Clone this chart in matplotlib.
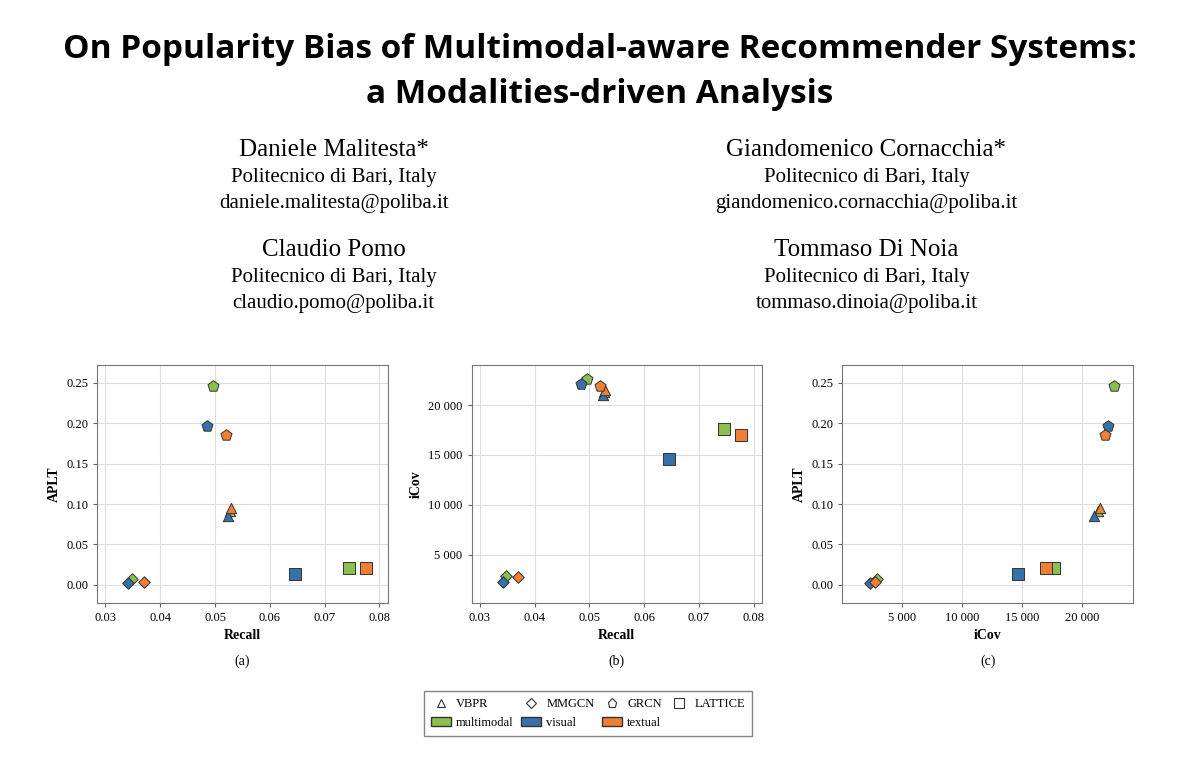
import matplotlib.pyplot as plt
from matplotlib.lines import Line2D
from matplotlib.patches import Patch

plt.rcParams['font.family'] = 'Liberation Serif'

models = ['VBPR', 'MMGCN', 'GRCN', 'LATTICE']
markers = ['^', 'D', 'p', 's']
sizes = [55, 35, 70, 80]
modalities = ['multimodal', 'visual', 'textual']
colors = {'multimodal': '#8cbf50', 'visual': '#3671aa', 'textual': '#ef7f32'}

# values per model: [multimodal, visual, textual]
recall = {
    'VBPR': [0.0527, 0.0524, 0.0529],
    'MMGCN': [0.0348, 0.0342, 0.0370],
    'GRCN': [0.0496, 0.0485, 0.0520],
    'LATTICE': [0.0745, 0.0646, 0.0776],
}
aplt = {
    'VBPR': [0.092, 0.085, 0.095],
    'MMGCN': [0.007, 0.002, 0.003],
    'GRCN': [0.246, 0.196, 0.185],
    'LATTICE': [0.021, 0.014, 0.021],
}
icov = {
    'VBPR': [21300, 21000, 21500],
    'MMGCN': [2900, 2300, 2750],
    'GRCN': [22600, 22100, 21900],
    'LATTICE': [17600, 14600, 17000],
}

fig = plt.figure(figsize=(12, 7.59), dpi=100)

fig.text(0.5, 0.935, 'On Popularity Bias of Multimodal-aware Recommender Systems:',
         ha='center', va='center', fontsize=24, fontweight='bold', family='Open Sans')
fig.text(0.5, 0.875, 'a Modalities-driven Analysis',
         ha='center', va='center', fontsize=24, fontweight='bold', family='Open Sans')

authors = [
    (0.278, 0.802, 'Daniele Malitesta*', 'Politecnico di Bari, Italy', 'daniele.malitesta@poliba.it'),
    (0.722, 0.802, 'Giandomenico Cornacchia*', 'Politecnico di Bari, Italy', 'giandomenico.cornacchia@poliba.it'),
    (0.278, 0.670, 'Claudio Pomo', 'Politecnico di Bari, Italy', 'claudio.pomo@poliba.it'),
    (0.722, 0.670, 'Tommaso Di Noia', 'Politecnico di Bari, Italy', 'tommaso.dinoia@poliba.it'),
]
for x, y, name, aff, mail in authors:
    fig.text(x, y, name, ha='center', va='center', fontsize=18)
    fig.text(x, y - 0.036, aff, ha='center', va='center', fontsize=15)
    fig.text(x, y - 0.070, mail, ha='center', va='center', fontsize=15)

panels = [
    (0.081, recall, aplt, 'Recall', 'APLT', '(a)'),
    (0.393, recall, icov, 'Recall', 'iCov', '(b)'),
    (0.702, icov, aplt, 'iCov', 'APLT', '(c)'),
]
for left, xs, ys, xl, yl, tag in panels:
    ax = fig.add_axes([left, 0.206, 0.242, 0.313])
    for m, mk, sz in zip(models, markers, sizes):
        for i, mod in enumerate(modalities):
            ax.scatter(xs[m][i], ys[m][i], marker=mk, s=sz, c=colors[mod],
                       edgecolors='#333333', linewidths=0.7, zorder=3)
    ax.grid(color='#dddddd', linewidth=0.8)
    ax.set_axisbelow(True)
    ax.tick_params(labelsize=9, length=3, color='#666666')
    for s in ax.spines.values():
        s.set_color('#777777')
    ax.set_xlabel(xl, fontsize=10, fontweight='bold')
    ax.set_ylabel(yl, fontsize=10, fontweight='bold')
    ax.text(0.5, -0.26, tag, transform=ax.transAxes, ha='center', fontsize=10)
    if yl == 'APLT':
        ax.set_ylim(-0.022, 0.272)
        ax.set_yticks([0, 0.05, 0.10, 0.15, 0.20, 0.25])
        ax.set_yticklabels(['0.00', '0.05', '0.10', '0.15', '0.20', '0.25'])
    else:
        ax.set_ylim(200, 24000)
        ax.set_yticks([5000, 10000, 15000, 20000])
        ax.set_yticklabels(['5 000', '10 000', '15 000', '20 000'])
    if xl == 'Recall':
        ax.set_xlim(0.0285, 0.0815)
        ax.set_xticks([0.03, 0.04, 0.05, 0.06, 0.07, 0.08])
    else:
        ax.set_xlim(0, 24200)
        ax.set_xticks([5000, 10000, 15000, 20000])
        ax.set_xticklabels(['5 000', '10 000', '15 000', '20 000'])

# legend: marker shapes on top row, modality colours below
shape_handles = [Line2D([], [], marker=mk, color='none', markeredgecolor='#333333',
                        markerfacecolor='none', markersize=ms, markeredgewidth=0.8, label=m)
                 for m, mk, ms in zip(models, markers, [6, 5, 6.5, 7])]
col_handles = [Patch(facecolor=colors[mod], edgecolor='#333333', label=mod) for mod in modalities]
col_handles.append(Patch(facecolor='none', edgecolor='none', label=''))
ordered = []
for a, b in zip(shape_handles, col_handles):
    ordered += [a, b]
fig.legend(handles=ordered, loc='center', bbox_to_anchor=(0.49, 0.06), ncol=4,
           fontsize=9, frameon=True, edgecolor='#666666', fancybox=False,
           handlelength=1.6, columnspacing=0.6, handletextpad=0.4,
           labelspacing=0.5, borderpad=0.6)

fig.savefig('out.png', dpi=100)
